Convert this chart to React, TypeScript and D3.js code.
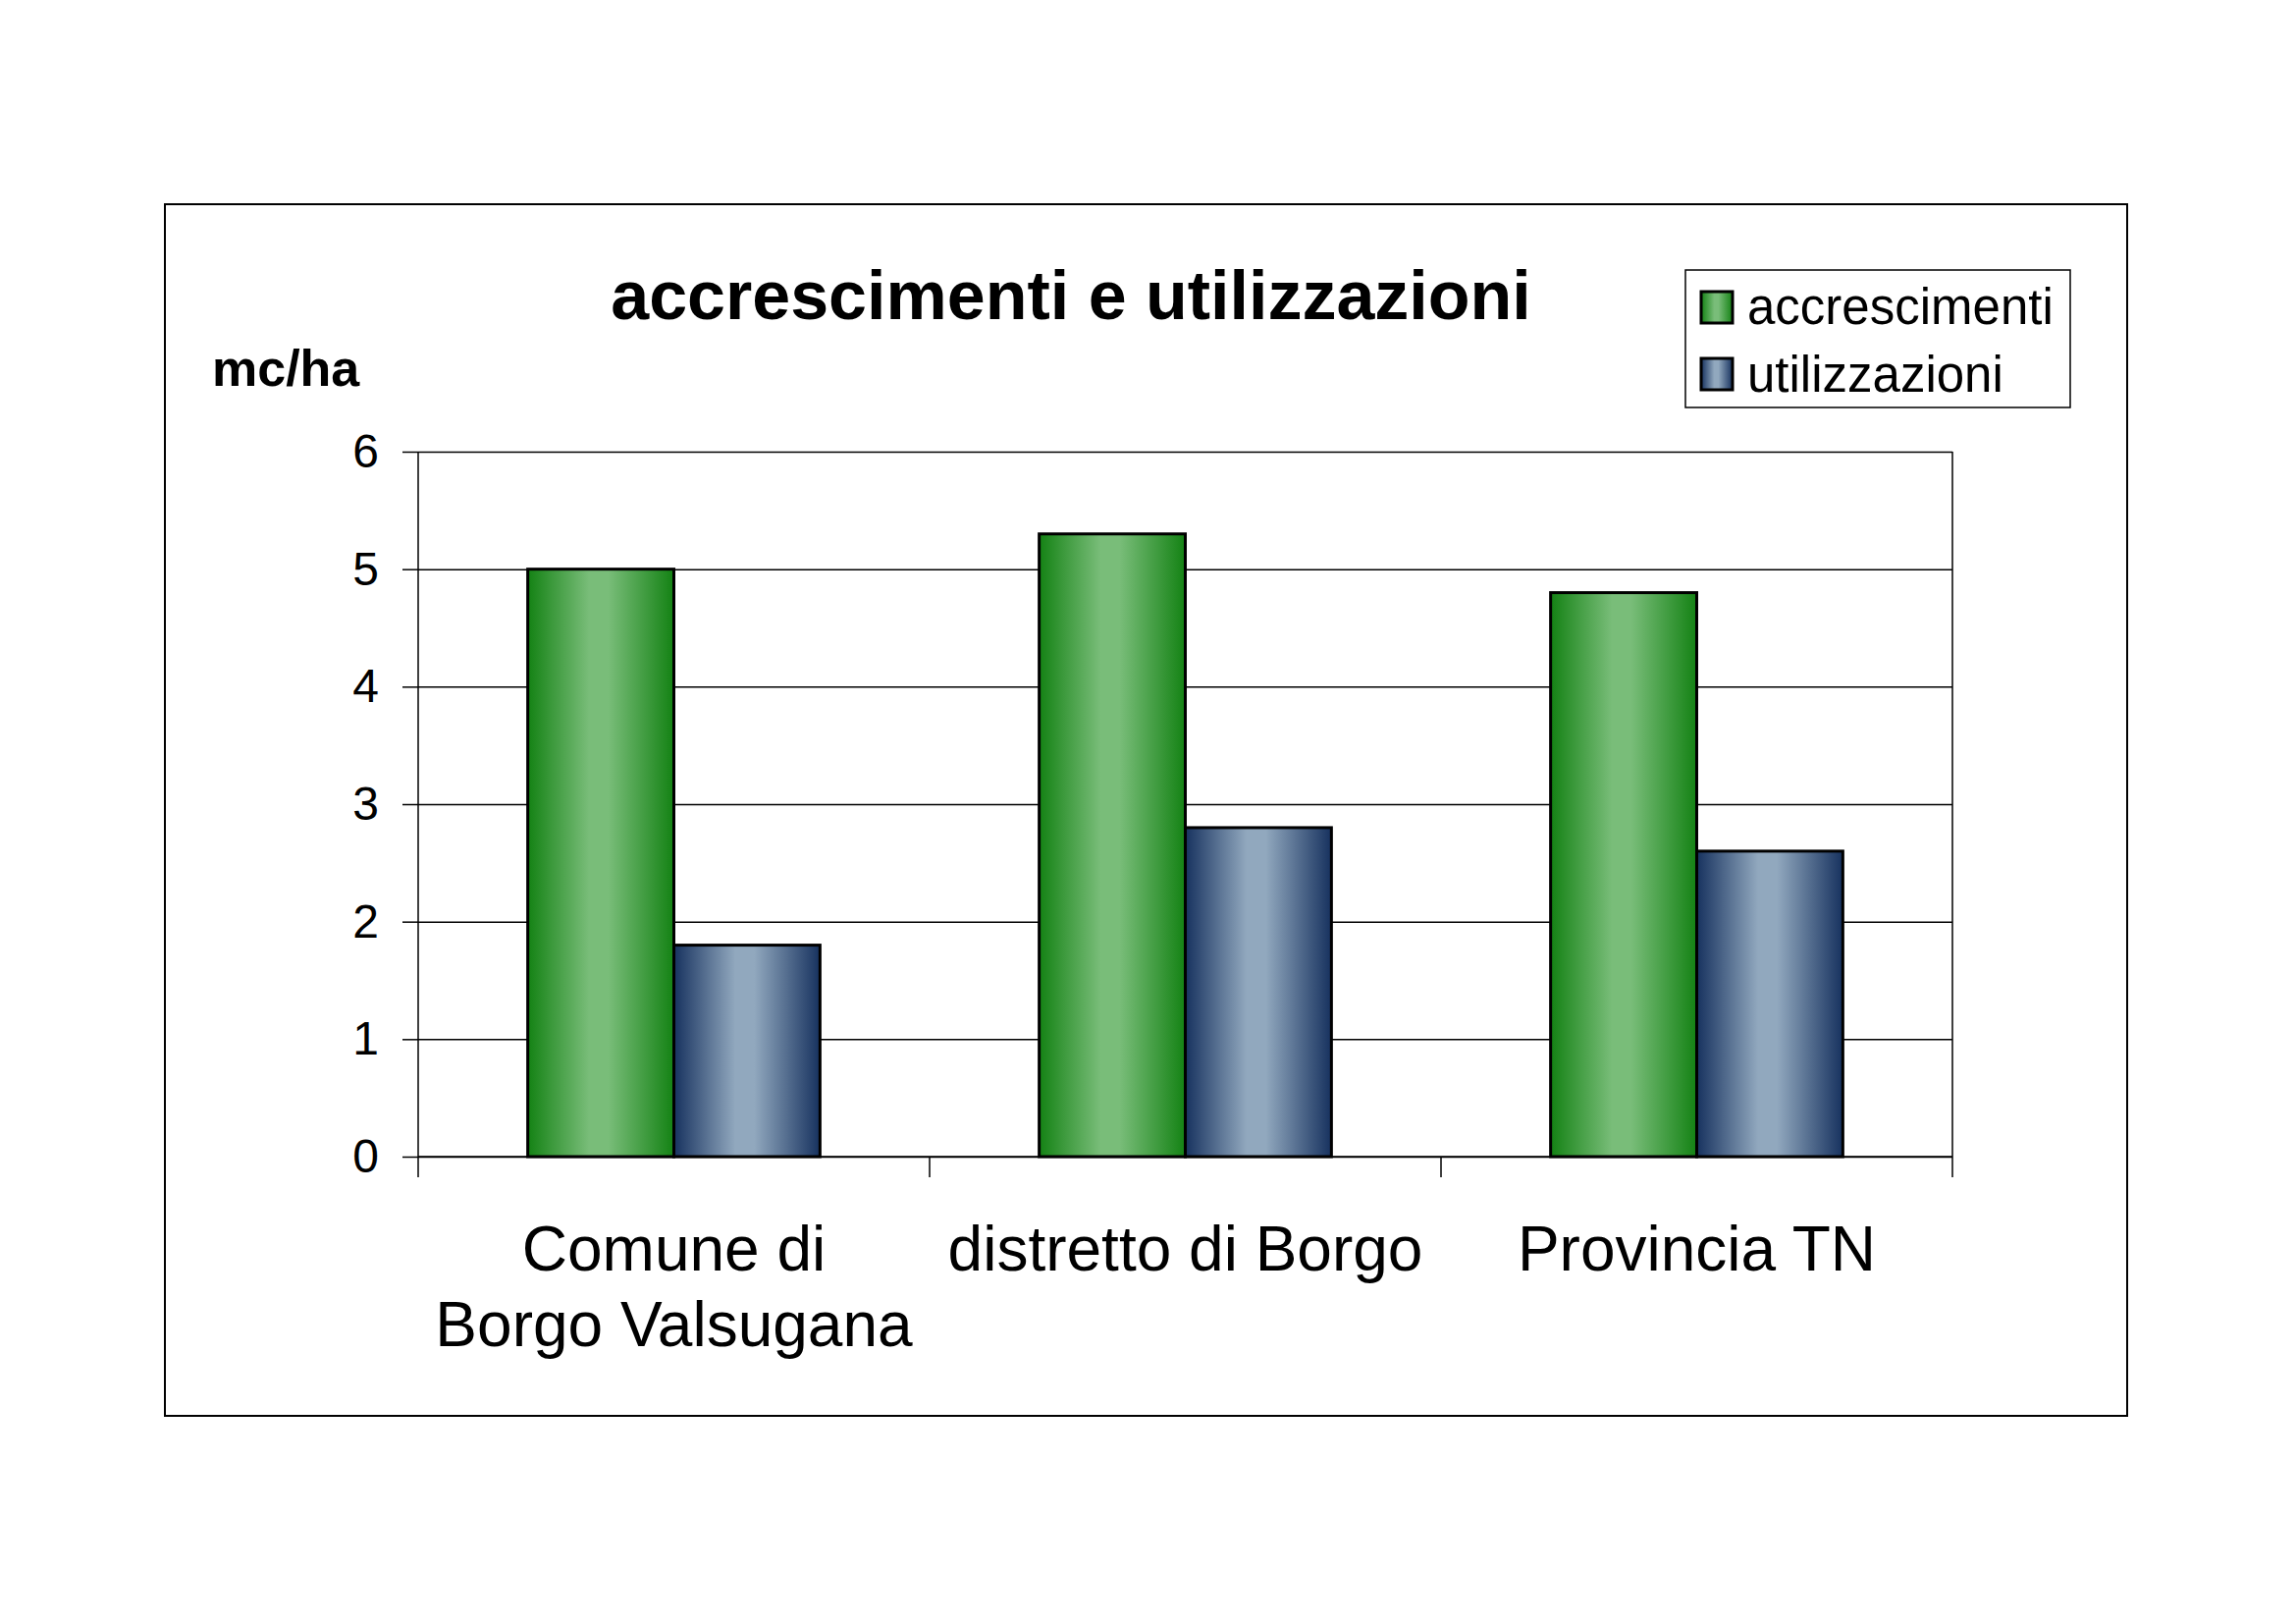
import { useEffect, useRef } from 'react';
import * as d3 from 'd3';

// chart data
const categories = ['Comune di\nBorgo Valsugana', 'distretto di Borgo', 'Provincia TN'];
const seriesNames = ['accrescimenti', 'utilizzazioni'];
const accrescimenti = [5.0, 5.3, 4.8];
const utilizzazioni = [1.8, 2.8, 2.6];
const yTicks = [0, 1, 2, 3, 4, 5, 6];

const FONT = '"Liberation Sans", Arial, sans-serif';

const App = () => {
    const svgRef = useRef<SVGSVGElement>(null);

    useEffect(() => {
        if (!svgRef.current) return;
        const svg = d3.select(svgRef.current);
        svg.selectAll('*').remove();

        const W = 2339;
        const H = 1654;
        const plot = { left: 426, right: 1989, top: 460, bottom: 1178 };

        svg.attr('width', W).attr('height', H).style('background', '#fff');

        // gradients (dark - light - dark, like Excel's horizontal shading)
        const defs = svg.append('defs');
        const grads = [
            { id: 'gGreen', dark: '#148214', light: '#79bd79' },
            { id: 'gBlue', dark: '#17325f', light: '#91a8be' }
        ];
        grads.forEach(g => {
            const lg = defs.append('linearGradient')
                .attr('id', g.id)
                .attr('x1', '0%').attr('x2', '100%')
                .attr('y1', '0%').attr('y2', '0%');
            lg.append('stop').attr('offset', '0%').attr('stop-color', g.dark);
            lg.append('stop').attr('offset', '42%').attr('stop-color', g.light);
            lg.append('stop').attr('offset', '55%').attr('stop-color', g.light);
            lg.append('stop').attr('offset', '100%').attr('stop-color', g.dark);
        });

        // outer chart border
        svg.append('rect')
            .attr('x', 168).attr('y', 208)
            .attr('width', 2167 - 168).attr('height', 1442 - 208)
            .attr('fill', '#fff')
            .attr('stroke', '#000')
            .attr('stroke-width', 2);

        // scales
        const x0 = d3.scaleBand<string>()
            .domain(categories)
            .range([plot.left, plot.right])
            .paddingInner(0)
            .paddingOuter(0);

        const x1 = d3.scaleBand<string>()
            .domain(seriesNames)
            .range([0, x0.bandwidth()])
            .paddingInner(0)
            .paddingOuter(0.75);

        const y = d3.scaleLinear()
            .domain([0, 6])
            .range([plot.bottom, plot.top]);

        // gridlines + left ticks
        svg.append('g')
            .attr('transform', `translate(${plot.left},0)`)
            .call(d3.axisLeft(y).tickValues(yTicks).tickSize(-(plot.right - plot.left)).tickFormat(() => ''))
            .call(g => g.select('.domain').remove())
            .call(g => g.selectAll('.tick line').attr('stroke', '#000').attr('stroke-width', 1.5));

        svg.append('g')
            .attr('transform', `translate(${plot.left},0)`)
            .call(d3.axisLeft(y).tickValues(yTicks).tickSize(16).tickPadding(24).tickFormat(d3.format('d')))
            .call(g => g.select('.domain').remove())
            .call(g => g.selectAll('.tick line').attr('stroke', '#000').attr('stroke-width', 1.5))
            .call(g => g.selectAll('.tick text')
                .attr('fill', '#000')
                .style('font-family', FONT)
                .style('font-size', '48px'));

        // plot area right border and left axis line
        svg.append('line')
            .attr('x1', plot.right).attr('x2', plot.right)
            .attr('y1', plot.top).attr('y2', plot.bottom)
            .attr('stroke', '#000').attr('stroke-width', 1.5);
        svg.append('line')
            .attr('x1', plot.left).attr('x2', plot.left)
            .attr('y1', plot.top).attr('y2', plot.bottom)
            .attr('stroke', '#000').attr('stroke-width', 1.5);

        // bars
        const values = [accrescimenti, utilizzazioni];
        const fills = ['url(#gGreen)', 'url(#gBlue)'];
        categories.forEach((cat, ci) => {
            seriesNames.forEach((s, si) => {
                const v = values[si][ci];
                svg.append('rect')
                    .attr('x', (x0(cat) ?? 0) + (x1(s) ?? 0))
                    .attr('y', y(v))
                    .attr('width', x1.bandwidth())
                    .attr('height', y(0) - y(v))
                    .attr('fill', fills[si])
                    .attr('stroke', '#000')
                    .attr('stroke-width', 3);
            });
        });

        // category axis with ticks between groups
        const boundaries = categories.map(c => x0(c) ?? 0).concat([plot.right]);
        svg.append('line')
            .attr('x1', plot.left).attr('x2', plot.right)
            .attr('y1', y(0)).attr('y2', y(0))
            .attr('stroke', '#000').attr('stroke-width', 1.5);
        svg.selectAll('.xtick')
            .data(boundaries)
            .enter().append('line')
            .attr('class', 'xtick')
            .attr('x1', d => d).attr('x2', d => d)
            .attr('y1', y(0)).attr('y2', y(0) + 21)
            .attr('stroke', '#000').attr('stroke-width', 1.5);

        categories.forEach(cat => {
            const cx = (x0(cat) ?? 0) + x0.bandwidth() / 2;
            const lines = cat.split('\n');
            const t = svg.append('text')
                .attr('x', cx)
                .attr('y', 1294)
                .attr('text-anchor', 'middle')
                .style('font-family', FONT)
                .style('font-size', '64px')
                .attr('fill', '#000');
            lines.forEach((ln, i) => {
                t.append('tspan')
                    .attr('x', cx)
                    .attr('dy', i === 0 ? 0 : 77)
                    .text(ln);
            });
        });

        // title and unit label
        svg.append('text')
            .attr('x', 1091).attr('y', 325)
            .attr('text-anchor', 'middle')
            .style('font-family', FONT)
            .style('font-size', '70px')
            .style('font-weight', 'bold')
            .text('accrescimenti e utilizzazioni');

        svg.append('text')
            .attr('x', 216).attr('y', 393)
            .style('font-family', FONT)
            .style('font-size', '52px')
            .style('font-weight', 'bold')
            .text('mc/ha');

        // legend
        const legend = svg.append('g');
        legend.append('rect')
            .attr('x', 1717).attr('y', 275)
            .attr('width', 2109 - 1717).attr('height', 415 - 275)
            .attr('fill', '#fff')
            .attr('stroke', '#000')
            .attr('stroke-width', 1.5);
        seriesNames.forEach((s, i) => {
            const top = 297 + i * 68;
            legend.append('rect')
                .attr('x', 1733).attr('y', top)
                .attr('width', 32).attr('height', 32)
                .attr('fill', fills[i])
                .attr('stroke', '#000')
                .attr('stroke-width', 3);
            legend.append('text')
                .attr('x', 1780).attr('y', 330 + i * 69)
                .style('font-family', FONT)
                .style('font-size', '51px')
                .text(s);
        });
    }, []);

    return (
        <svg ref={svgRef} style={{ position: 'absolute', left: 0, top: 0, display: 'block' }}></svg>
    );
};

export default App;
